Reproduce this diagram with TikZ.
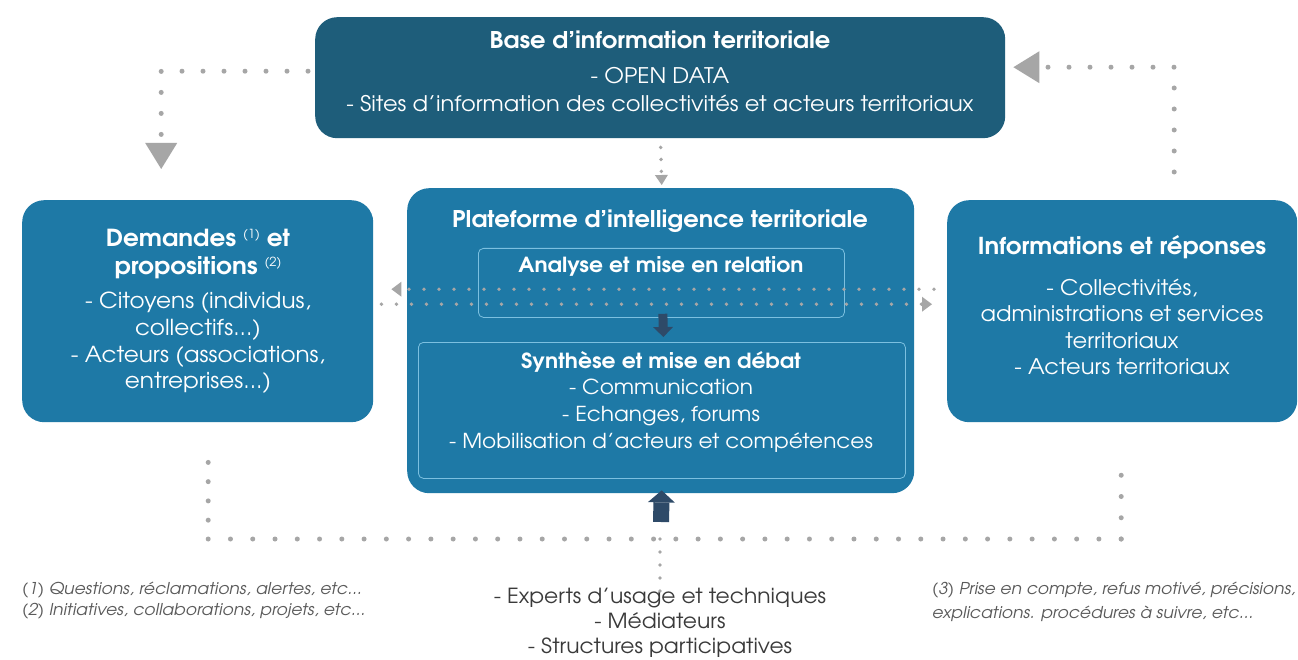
\documentclass[tikz,border=0pt]{standalone}
\usepackage{fontspec}
\setmainfont{texgyreadventor}[Extension=.otf, UprightFont=*-regular, BoldFont=*-bold, ItalicFont=*-italic, BoldItalicFont=*-bolditalic, FakeStretch=1.05]
\usetikzlibrary{arrows.meta}
\definecolor{topblue}{HTML}{1E5D7A}
\definecolor{midblue}{HTML}{1E79A6}
\definecolor{edgeblue}{HTML}{7CC0E0}
\definecolor{dotgray}{HTML}{A6A6A6}
\definecolor{darkarrow}{HTML}{2E4A68}
\definecolor{notegray}{HTML}{5A5A5A}
\definecolor{textdark}{HTML}{3A3A3A}
\newcommand\fnmk[1]{\raisebox{8pt}{\fontsize{12.5}{12.5}\selectfont\mdseries #1}}
\begin{document}
\begin{tikzpicture}[x=1pt,y=-1pt,
  bigbox/.style={fill=#1, rounded corners=22pt, inner sep=0pt, anchor=north west},
  innerbox/.style={draw=edgeblue, line width=0.8pt, rounded corners=5pt, inner sep=0pt, anchor=north west},
  wtitle/.style={text=white, align=center, font=\bfseries\fontsize{#1}{28}\selectfont, inner sep=0pt},
  wbody/.style 2 args={text=white, align=center, font=\fontsize{#1}{#2}\selectfont, inner sep=0pt},
  dotline/.style={draw=dotgray, line width=5pt, line cap=round, dash pattern=on 0pt off 21pt},
  smalldots/.style={draw=dotgray, line width=3.8pt, line cap=round, dash pattern=on 0pt off 15pt},
  bigtip/.tip={Triangle[length=26pt,width=32pt,line width=0pt]},
  smalltip/.tip={Triangle[length=10pt,width=15pt,line width=0pt]},
  darkarr/.style={draw=darkarrow, line width=9pt, -{Triangle[length=10pt,width=20pt,line width=0pt]}},
  bigdarkarr/.style={draw=darkarrow, line width=16pt, -{Triangle[length=12pt,width=27pt,line width=0pt]}},
  note/.style={text=notegray, align=left, anchor=west, inner sep=0pt, font=\itshape\fontsize{16.3}{21}\selectfont}
]
\useasboundingbox (0,0) rectangle (1298,660);
\fill[white] (0,0) rectangle (1298,660);

% boxes
\node[bigbox=topblue, minimum width=690pt, minimum height=121pt] (base) at (315,17) {};
\node[bigbox=midblue, minimum width=351pt, minimum height=222pt] (dem) at (22,200) {};
\node[bigbox=midblue, minimum width=507pt, minimum height=305pt] (plat) at (407,188) {};
\node[bigbox=midblue, minimum width=350pt, minimum height=222pt] (info) at (947,200) {};
\node[innerbox, minimum width=366pt, minimum height=69pt] (ana) at (478,248) {};
\node[innerbox, minimum width=487pt, minimum height=136pt] (syn) at (418,342) {};

% texts
\node[wtitle=23] (baseT) at (660,40) {Base d’information territoriale};
\node[wbody={21.5}{28}] (baseB) at (660,90) {- OPEN DATA\\- Sites d'information des collectivités et acteurs territoriaux};

\node[wtitle=23] (platT) at (660,221) {Plateforme d’intelligence territoriale};
\node[wtitle=20.8] (anaT) at (661,266) {Analyse et mise en relation};
\node[wtitle=20.8] (synT) at (661,362) {Synthèse et mise en débat};
\node[wbody={20.6}{27}] (synB) at (661,416) {- Communication\\- Echanges, forums\\- Mobilisation d'acteurs et compétences};

\node[wtitle=23.5] (demT) at (198,254) {Demandes \fnmk{(1)} et\\propositions \fnmk{(2)}};
\node[wbody={22}{26.7}] (demB) at (198,343) {- Citoyens (individus,\\collectifs...)\\- Acteurs (associations,\\entreprises...)};

\node[wtitle=23.3] (infoT) at (1122,247) {Informations et réponses};
\node[wbody={21.5}{26.5}] (infoB) at (1122,327) {- Collectivités,\\administrations et services\\territoriaux\\- Acteurs territoriaux};

\node[text=textdark, align=center, inner sep=0pt, font=\fontsize{20.8}{25}\selectfont] (exp) at (660,623) {- Experts d'usage et techniques\\- Médiateurs\\- Structures participatives};
\node[note] (noteL) at (22,601) {(1) Questions, réclamations, alertes, etc...\\(2) Initiatives, collaborations, projets, etc...};
\node[note, font=\itshape\fontsize{16.3}{24}\selectfont] (noteR) at (932,602) {(3) Prise en compte, refus motivé, précisions,\\explications. procédures à suivre, etc...};

% connectors
\coordinate (tlS) at ([xshift=-7pt,yshift=6.5pt]base.west);
\coordinate (tlE) at ([xshift=-36.5pt,yshift=31pt]dem.north);
\draw[dotline, -{bigtip}] (tlS) -| (tlE);

\coordinate (trS) at ([xshift=52pt,yshift=28pt]info.north);
\coordinate (trE) at ([xshift=8pt,yshift=10.5pt]base.east);
\draw[dotline, -{bigtip}] (trS) |- (trE);

\draw[smalldots, dash pattern=on 0pt off 12pt, -{Triangle[length=10pt,width=13pt,line width=0pt]}]
  ([xshift=0.5pt,yshift=-9pt]base.south) -- ([xshift=1pt,yshift=3pt]plat.north);

\draw[smalldots, -{smalltip}, shorten >=8pt] ([xshift=-13pt,yshift=22pt]info.west) -- ([xshift=10pt,yshift=22pt]dem.east);
\draw[smalldots, -{smalltip}] ([xshift=8pt,yshift=7pt]dem.east) -- ([xshift=-15pt,yshift=7pt]info.west);

\draw[darkarr] ([xshift=1.5pt,yshift=4pt]ana.south) -- ([xshift=1.5pt,yshift=5pt]syn.north);
\coordinate (bup) at (661,522);
\draw[bigdarkarr] (bup) -- ([xshift=1pt,yshift=3pt]plat.south);

% bottom loop
\coordinate (blS) at ([xshift=10.5pt,yshift=-40pt]dem.south);
\coordinate (brS) at ([xshift=-1pt,yshift=-32pt]info.south);
\coordinate (loopY) at (0,539);
\coordinate (blC) at (blS |- loopY);
\coordinate (brC) at (brS |- loopY);
\draw[dotline, dash pattern=on 0pt off 19.25pt] (blS) -- (blC);
\draw[dotline, dash pattern=on 0pt off 22.268pt] (blC) -- (brC);
\draw[dotline, dash pattern=on 0pt off 21.25pt] (brC) -- (brS);
\draw[smalldots, dash pattern=on 0pt off 13pt] (blC -| exp.north) -- ([yshift=-3pt]exp.north);
\end{tikzpicture}
\end{document}
